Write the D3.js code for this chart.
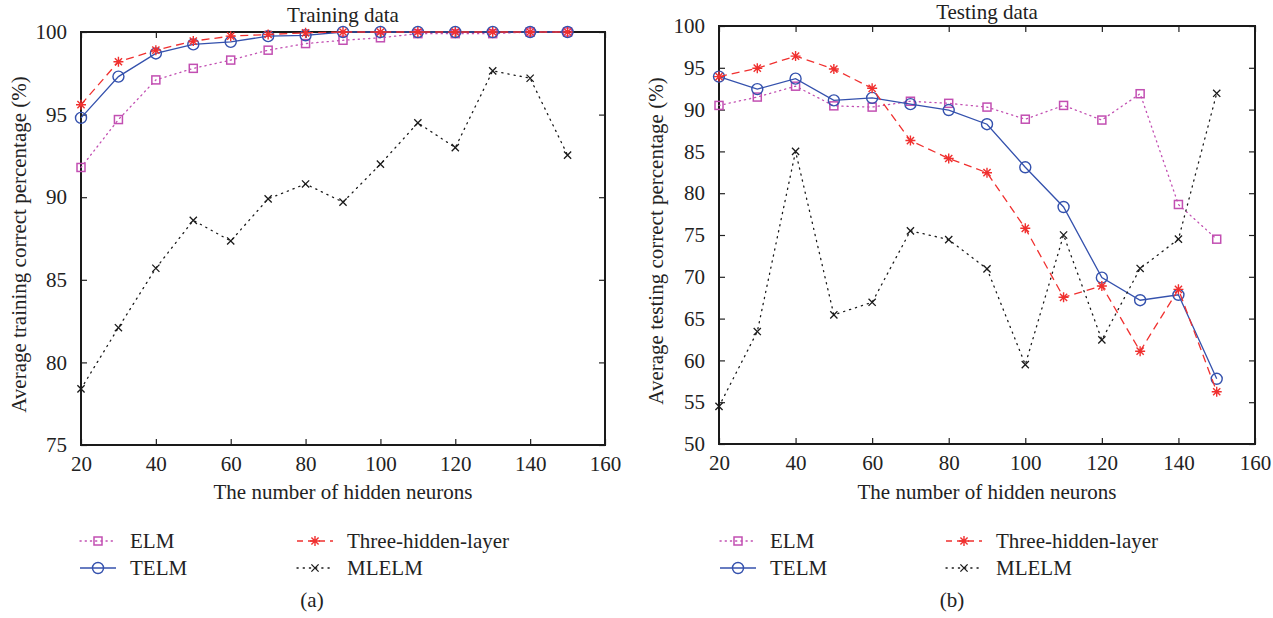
<!DOCTYPE html>
<html>
<head>
<meta charset="utf-8">
<script src="https://cdn.jsdelivr.net/npm/d3@7"></script>
<style>
  body { margin: 0; background: #fff; }
  svg { display: block; }
  svg text { font-family: "Liberation Serif", "Times New Roman", serif; }
</style>
</head>
<body>
<svg id="chart" width="1273" height="618"></svg>
<script>
// values
const neurons = [20, 30, 40, 50, 60, 70, 80, 90, 100, 110, 120, 130, 140, 150];
const xTicks = [20, 40, 60, 80, 100, 120, 140, 160];

const trainELM   = [91.8, 94.7, 97.1, 97.8, 98.3, 98.9, 99.3, 99.5, 99.65, 99.9, 99.9, 99.9, 100, 100];
const trainTELM  = [94.8, 97.3, 98.7, 99.25, 99.4, 99.75, 99.8, 100, 100, 100, 100, 100, 100, 100];
const trainThree = [95.6, 98.2, 98.9, 99.45, 99.75, 99.85, 99.95, 100, 100, 100, 100, 100, 100, 100];
const trainMLELM = [78.4, 82.1, 85.7, 88.6, 87.35, 89.9, 90.8, 89.7, 92.0, 94.5, 93.0, 97.65, 97.2, 92.55];
const trainYTicks = [75, 80, 85, 90, 95, 100];

const testELM   = [90.5, 91.5, 92.8, 90.45, 90.3, 91.0, 90.75, 90.3, 88.85, 90.5, 88.75, 91.9, 78.65, 74.5];
const testTELM  = [93.95, 92.45, 93.7, 91.1, 91.4, 90.65, 89.95, 88.25, 83.1, 78.35, 69.9, 67.2, 67.85, 57.8];
const testThree = [93.95, 94.95, 96.4, 94.85, 92.55, 86.3, 84.15, 82.45, 75.8, 67.55, 68.9, 61.1, 68.5, 56.25];
const testMLELM = [54.5, 63.45, 85.0, 65.45, 66.95, 75.5, 74.45, 70.95, 59.5, 75.0, 62.45, 71.0, 74.5, 91.95];
const testYTicks = [50, 55, 60, 65, 70, 75, 80, 85, 90, 95, 100];

const seriesNames = ['ELM', 'TELM', 'Three-hidden-layer', 'MLELM'];

const styles = {
    'ELM':                {color: '#c24fb2', dash: '1.2,4', marker: 'square'},
    'TELM':               {color: '#3451ad', dash: null,    marker: 'circle'},
    'Three-hidden-layer': {color: '#f0302f', dash: '8,5',   marker: 'star'},
    'MLELM':              {color: '#1a1a1a', dash: '1.2,5', marker: 'cross'}
};

const FONT = '"Liberation Serif", "Times New Roman", serif';
const FS = 21;
const svg = d3.select('#chart');

function drawMarker(g, type, color) {
    if (type === 'square') {
        g.append('rect').attr('x', -4).attr('y', -4).attr('width', 8).attr('height', 8)
            .attr('fill', 'none').attr('stroke', color).attr('stroke-width', 1.5);
    } else if (type === 'circle') {
        g.append('circle').attr('r', 5.5)
            .attr('fill', 'none').attr('stroke', color).attr('stroke-width', 1.4);
    } else if (type === 'star') {
        const r = 5, d = r * 0.72;
        g.append('path')
            .attr('d', `M${-r},0L${r},0M0,${-r}L0,${r}M${-d},${-d}L${d},${d}M${-d},${d}L${d},${-d}`)
            .attr('stroke', color).attr('stroke-width', 1.4).attr('fill', 'none');
    } else {
        const r = 3.6;
        g.append('path')
            .attr('d', `M${-r},${-r}L${r},${r}M${-r},${r}L${r},${-r}`)
            .attr('stroke', color).attr('stroke-width', 1.3).attr('fill', 'none');
    }
}

function label(g, x, y, txt, anchor) {
    return g.append('text')
        .attr('x', x).attr('y', y)
        .attr('text-anchor', anchor || 'middle')
        .attr('font-family', FONT).attr('font-size', FS).attr('fill', '#222')
        .text(txt);
}

function drawPanel(p) {
    const x = d3.scaleLinear().domain([20, 160]).range([p.left, p.right]);
    const y = d3.scaleLinear().domain(p.yDomain).range([p.bottom, p.top]);
    const g = svg.append('g');

    // inward ticks on all four sides
    const tl = 6;
    g.append('g').attr('transform', `translate(0,${p.bottom})`)
        .call(d3.axisBottom(x).tickValues(xTicks).tickSizeInner(-tl).tickSizeOuter(0).tickPadding(tl + 5))
        .call(a => a.select('.domain').remove());
    g.append('g').attr('transform', `translate(0,${p.top})`)
        .call(d3.axisTop(x).tickValues(xTicks).tickSizeInner(-tl).tickSizeOuter(0).tickFormat(''))
        .call(a => a.select('.domain').remove());
    g.append('g').attr('transform', `translate(${p.left},0)`)
        .call(d3.axisLeft(y).tickValues(p.yTicks).tickSizeInner(-tl).tickSizeOuter(0).tickPadding(tl + 8))
        .call(a => a.select('.domain').remove());
    g.append('g').attr('transform', `translate(${p.right},0)`)
        .call(d3.axisRight(y).tickValues(p.yTicks).tickSizeInner(-tl).tickSizeOuter(0).tickFormat(''))
        .call(a => a.select('.domain').remove());

    g.selectAll('.tick line').attr('stroke', '#222').attr('stroke-width', 1.2);
    g.selectAll('.tick text').attr('font-family', FONT)
        .attr('font-size', FS).attr('fill', '#222');

    g.append('rect')
        .attr('x', p.left).attr('y', p.top)
        .attr('width', p.right - p.left).attr('height', p.bottom - p.top)
        .attr('fill', 'none').attr('stroke', '#1a1a1a').attr('stroke-width', 2);

    const line = d3.line().x(d => x(d[0])).y(d => y(d[1]));

    p.series.forEach((vals, i) => {
        const name = seriesNames[i];
        const st = styles[name];
        const pts = neurons.map((n, k) => [n, vals[k]]);
        g.append('path')
            .datum(pts)
            .attr('d', line)
            .attr('fill', 'none')
            .attr('stroke', st.color)
            .attr('stroke-width', 1.3)
            .attr('stroke-dasharray', st.dash)
            .attr('stroke-linecap', st.dash && st.dash.startsWith('1.2') ? 'round' : 'butt');
        pts.forEach(d => {
            const m = g.append('g').attr('transform', `translate(${x(d[0])},${y(d[1])})`);
            drawMarker(m, st.marker, st.color);
        });
    });

    // titles
    label(g, (p.left + p.right) / 2, p.titleY, p.title);
    label(g, (p.left + p.right) / 2, 499, 'The number of hidden neurons');
    label(g, 0, 0, p.yLabel)
        .attr('transform', `translate(${p.yLabelX},${(p.top + p.bottom) / 2 + 6}) rotate(-90)`);

    // legend (two columns)
    const cols = [p.legendX1, p.legendX2];
    const rows = [541, 568];
    seriesNames.forEach((name, i) => {
        const st = styles[name];
        const lx = cols[i < 2 ? 0 : 1];
        const ly = rows[i % 2];
        const lg = g.append('g');
        lg.append('line')
            .attr('x1', lx).attr('x2', lx + 36).attr('y1', ly).attr('y2', ly)
            .attr('stroke', st.color).attr('stroke-width', 1.3)
            .attr('stroke-dasharray', st.dash === '8,5' ? '6,5' : st.dash)
            .attr('stroke-linecap', st.dash && st.dash.startsWith('1.2') ? 'round' : 'butt');
        const m = lg.append('g').attr('transform', `translate(${lx + 18},${ly})`);
        drawMarker(m, st.marker, st.color);
        label(lg, lx + 50, ly + 7, name, 'start');
    });

    label(g, p.captionX, 607, p.caption);
}

drawPanel({
    left: 81, right: 605, top: 32, bottom: 445,
    yDomain: [75, 100], yTicks: trainYTicks,
    series: [trainELM, trainTELM, trainThree, trainMLELM],
    title: 'Training data', titleY: 22,
    yLabel: 'Average training correct percentage (%)', yLabelX: 26,
    legendX1: 80, legendX2: 297, captionX: 312, caption: '(a)'
});

drawPanel({
    left: 719, right: 1255, top: 26, bottom: 444,
    yDomain: [50, 100], yTicks: testYTicks,
    series: [testELM, testTELM, testThree, testMLELM],
    title: 'Testing data', titleY: 19,
    yLabel: 'Average testing correct percentage (%)', yLabelX: 663,
    legendX1: 720, legendX2: 946, captionX: 952, caption: '(b)'
});
</script>
</body>
</html>
